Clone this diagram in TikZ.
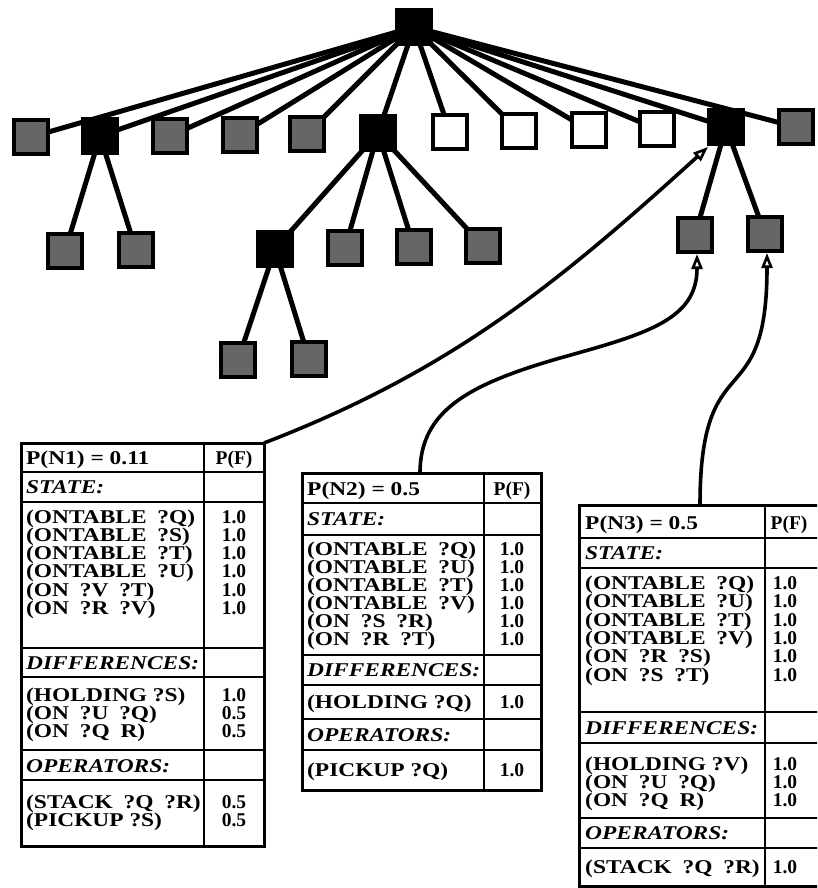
\documentclass[tikz,border=0pt]{standalone}
\usepackage{fontspec}
\usepackage{graphicx}
\setmainfont{Liberation Serif}
\newfontfamily\tf{Liberation Serif}
\usetikzlibrary{arrows.meta,calc}
\newcommand\ws{\hspace{9pt}}
\newcommand\sx[1]{\scalebox{1.2}[1]{#1}}
\newcommand\trow[6]{\node[lt] (#1l) at (#2,#4) {\sx{#5}}; \node[rt] (#1r) at (#3,#4) {#6};}
\newcommand\tlab[4]{\node[lt] (#1l) at (#2,#3) {\sx{\itshape #4}};}
\begin{document}
\begin{tikzpicture}[x=1pt,y=-1pt,
  sq/.style={draw, line width=3.8pt, minimum size=34pt, inner sep=0pt, outer sep=0pt},
  blk/.style={sq, fill=black},
  shd/.style={sq, fill=black!60},
  wht/.style={sq, fill=white},
  edge/.style={line width=5pt},
  frame/.style={draw, line width=3pt, inner sep=0pt, outer sep=0pt},
  tline/.style={line width=2.8pt},
  lt/.style={anchor=base west, inner sep=0pt, font=\tf\bfseries\fontsize{19.5}{19.5}\selectfont},
  rt/.style={anchor=base, inner sep=0pt, font=\tf\bfseries\fontsize{19.5}{19.5}\selectfont},
  curve/.style={line width=3.6pt, -{Triangle[open, length=15pt, width=11pt, line width=2.6pt]}}
]
\useasboundingbox (0,0) rectangle (817,888);
\fill[white] (0,0) rectangle (817,888);
\clip (0,0) rectangle (817,888);

% ---------- tree ----------
\node[blk] (r) at (414,27) {};
\node[shd] (a) at (31,137) {};
\node[blk] (b) at (100,136) {};
\node[shd] (c) at (170,136) {};
\node[shd] (d) at (240,135) {};
\node[shd] (e) at (307,134) {};
\node[blk] (f) at (378,133) {};
\node[wht] (g) at (450,132) {};
\node[wht] (h) at (519,131) {};
\node[wht] (i) at (589,130) {};
\node[wht] (j) at (657,129) {};
\node[blk] (k) at (726,127) {};
\node[shd] (l) at (796,127) {};
\node[shd] (b1) at (65,251) {};
\node[shd] (b2) at (136,250) {};
\node[blk] (f1) at (275,249) {};
\node[shd] (f2) at (345,248) {};
\node[shd] (f3) at (414,247) {};
\node[shd] (f4) at (483,246) {};
\node[shd] (f11) at (238,360) {};
\node[shd] (f12) at (309,359) {};
\node[shd] (k1) at (695,235) {};
\node[shd] (k2) at (765,234) {};

\foreach \n in {a,b,c,d,e,f,g,h,i,j,k,l} \draw[edge] (r) -- (\n);
\draw[edge] (b) -- (b1);
\draw[edge] (b) -- (b2);
\foreach \n in {f1,f2,f3,f4} \draw[edge] (f) -- (\n);
\draw[edge] (f1) -- (f11);
\draw[edge] (f1) -- (f12);
\draw[edge] (k) -- (k1);
\draw[edge] (k) -- (k2);

% ---------- table 1 ----------
\node[frame, minimum width=243pt, minimum height=403pt, anchor=north west] (t1) at (21,443) {};
\draw[tline] (204,443) -- (204,846);
\foreach \y in {472,502,648,677,750,780} \draw[tline] (21,\y) -- (264,\y);
\trow{t1a}{26}{234}{464}{P(N1) = 0.11}{P(F)}
\tlab{t1b}{26}{493}{STATE:}
\trow{t1c}{26}{234}{523}{(ONTABLE\ws ?Q)}{1.0}
\trow{t1d}{26}{234}{541.3}{(ONTABLE\ws ?S)}{1.0}
\trow{t1e}{26}{234}{559.6}{(ONTABLE\ws ?T)}{1.0}
\trow{t1f}{26}{234}{577.9}{(ONTABLE\ws ?U)}{1.0}
\trow{t1g}{26}{234}{596.2}{(ON\ws ?V\ws ?T)}{1.0}
\trow{t1h}{26}{234}{614.5}{(ON\ws ?R\ws ?V)}{1.0}
\tlab{t1i}{26}{669}{DIFFERENCES:}
\trow{t1j}{26}{234}{701}{(HOLDING ?S)}{1.0}
\trow{t1k}{26}{234}{719.3}{(ON\ws ?U\ws ?Q)}{0.5}
\trow{t1m}{26}{234}{737.6}{(ON\ws ?Q\ws R)}{0.5}
\tlab{t1n}{26}{772}{OPERATORS:}
\trow{t1o}{26}{234}{808}{(STACK\ws ?Q\ws ?R)}{0.5}
\trow{t1p}{26}{234}{826.3}{(PICKUP ?S)}{0.5}

% ---------- table 2 ----------
\node[frame, minimum width=239pt, minimum height=317pt, anchor=north west] (t2) at (302,473) {};
\draw[tline] (484,473) -- (484,790);
\foreach \y in {503,535,655,685,719,750} \draw[tline] (302,\y) -- (541,\y);
\trow{t2a}{307}{512}{495}{P(N2) = 0.5}{P(F)}
\tlab{t2b}{307}{525}{STATE:}
\trow{t2c}{307}{512}{555}{(ONTABLE\ws ?Q)}{1.0}
\trow{t2d}{307}{512}{573}{(ONTABLE\ws ?U)}{1.0}
\trow{t2e}{307}{512}{591}{(ONTABLE\ws ?T)}{1.0}
\trow{t2f}{307}{512}{609}{(ONTABLE\ws ?V)}{1.0}
\trow{t2g}{307}{512}{627}{(ON\ws ?S\ws ?R)}{1.0}
\trow{t2h}{307}{512}{645}{(ON\ws ?R\ws ?T)}{1.0}
\tlab{t2i}{307}{676}{DIFFERENCES:}
\trow{t2j}{307}{512}{708}{(HOLDING ?Q)}{1.0}
\tlab{t2k}{307}{741}{OPERATORS:}
\trow{t2m}{307}{512}{776}{(PICKUP ?Q)}{1.0}

% ---------- table 3 ----------
\node[frame, minimum width=261pt, minimum height=381pt, anchor=north west] (t3) at (579,505) {};
\draw[tline] (765,505) -- (765,886);
\foreach \y in {538,568,712,743,818,848} \draw[tline] (579,\y) -- (840,\y);
\trow{t3a}{585}{789}{529}{P(N3) = 0.5}{P(F)}
\tlab{t3b}{585}{559}{STATE:}
\trow{t3c}{585}{785}{589.5}{(ONTABLE\ws ?Q)}{1.0}
\trow{t3d}{585}{785}{607.8}{(ONTABLE\ws ?U)}{1.0}
\trow{t3e}{585}{785}{626.1}{(ONTABLE\ws ?T)}{1.0}
\trow{t3f}{585}{785}{644.4}{(ONTABLE\ws ?V)}{1.0}
\trow{t3g}{585}{785}{662.7}{(ON\ws ?R\ws ?S)}{1.0}
\trow{t3h}{585}{785}{681}{(ON\ws ?S\ws ?T)}{1.0}
\tlab{t3i}{585}{734}{DIFFERENCES:}
\trow{t3j}{585}{785}{770}{(HOLDING ?V)}{1.0}
\trow{t3k}{585}{785}{788}{(ON\ws ?U\ws ?Q)}{1.0}
\trow{t3m}{585}{785}{806}{(ON\ws ?Q\ws R)}{1.0}
\tlab{t3n}{585}{839}{OPERATORS:}
\trow{t3o}{585}{785}{873}{(STACK\ws ?Q\ws ?R)}{1.0}

% ---------- connectors ----------
\coordinate (s2) at ($(t2.north west)+(118,0)$);
\coordinate (s3) at ($(t3.north west)+(121,0)$);
\draw[curve] (t1.north east) .. controls (451,371) and (557,284) .. ($(k.south west)+(-1,3)$);
\draw[curve] (s2) .. controls (420,410) and (470,384) .. (560,358) .. controls (646,334) and (697,320) .. ($(k1.south)+(2,2)$);
\draw[curve] (s3) .. controls (700,340) and (767,420) .. ($(k2.south)+(2,2)$);
\end{tikzpicture}
\end{document}
